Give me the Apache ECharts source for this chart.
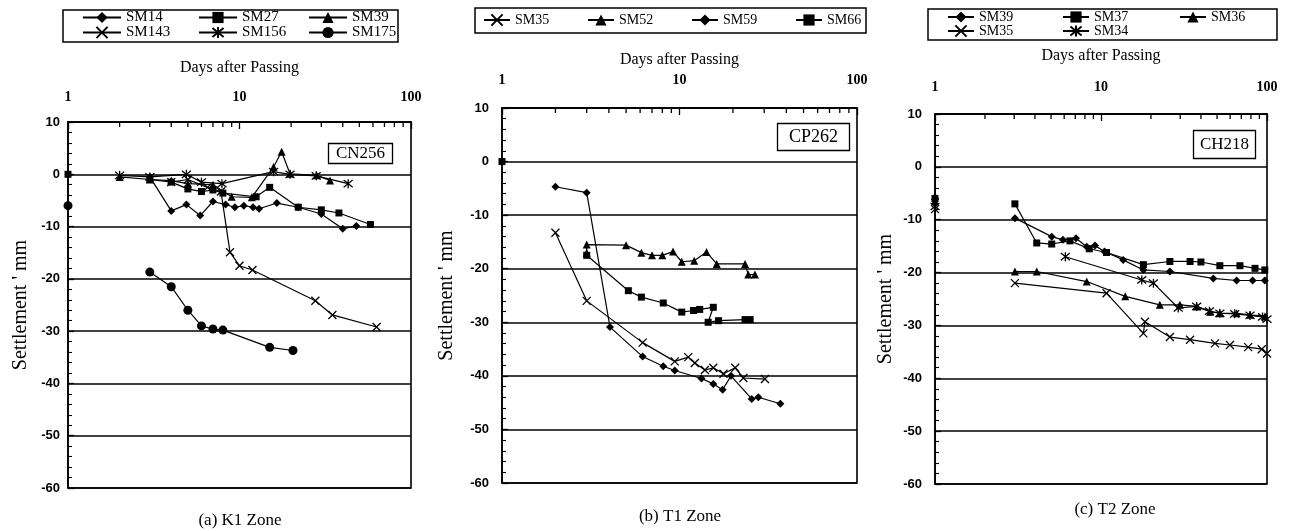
<!DOCTYPE html>
<html><head><meta charset="utf-8">
<script src="https://cdn.jsdelivr.net/npm/echarts@6/dist/echarts.min.js"></script>
<style>html,body{margin:0;padding:0;background:#fff}#c{width:1293px;height:531px}</style>
</head><body><div id="c"></div>
<script>
// ---- axis definitions ----
const xMin = 1, xMax = 100;                 // log axis, days after passing
const yMin = -60, yMax = 10, yStep = 10;    // settlement, mm
const minorDays = [2,3,4,5,6,7,8,9,20,30,40,50,60,70,80,90];

// ---- (a) K1 Zone, CN256 ----
const K1_SM14  = [[3,-0.5],[4,-7],[4.9,-5.8],[5.9,-7.9],[7,-5.2],[8.3,-5.8],[9.4,-6.3],[10.6,-6],[12,-6.3],[13,-6.6],[16.5,-5.5],[22,-6.3],[30,-7.6],[40,-10.4],[48,-9.9]];
const K1_SM27  = [[1,0],[1.5,null],[3,-1],[4,-1.5],[5,-2.8],[6,-3.3],[7,-3],[8,-3.6],[12.5,-4.3],[15,-2.5],[22,-6.3],[30,-6.8],[38,-7.4],[58,-9.6]];
const K1_SM39  = [[2,-0.5],[3,-1],[4,-1.2],[5,-1.8],[7,-2],[9,-4.3],[11.8,-4.4],[15.8,1.4],[17.6,4.3],[19.7,0.1],[28.2,-0.2],[33.7,-1.2]];
const K1_SM143 = [[4,-1.5],[5,-1],[6.5,-2.5],[7.8,-3.3],[8.8,-14.9],[10,-17.5],[11.9,-18.3],[27.7,-24.2],[34.8,-26.9],[63,-29.2]];
const K1_SM156 = [[2,-0.2],[3,-0.5],[4.9,0],[6,-1.5],[7.9,-1.8],[15.8,0.5],[19.7,0],[28,-0.3],[43,-1.8]];
const K1_SM175 = [[1,-6],[1.5,null],[3,-18.7],[4,-21.5],[5,-26],[6,-29],[7,-29.6],[8,-29.8],[15,-33.1],[20.5,-33.7]];

// ---- (b) T1 Zone, CP262 ----
const T1_SM35 = [[2,-13.3],[3,-26],[6.2,-33.8],[9.4,-37.3],[11.2,-36.5],[12.2,-37.6],[13.9,-38.9],[15.5,-38.5],[17.7,-39.6],[20.6,-38.5],[22.9,-40.4],[30.3,-40.6]];
const T1_SM52 = [[3,-17],[3,-15.5],[5,-15.6],[6.1,-17],[7,-17.5],[8,-17.5],[9.2,-16.8],[10.3,-18.7],[12.1,-18.5],[14.2,-16.9],[16.2,-19.1],[23.4,-19.1],[24.4,-21.1],[26.6,-21.1]];
const T1_SM59 = [[2,-4.7],[3,-5.8],[4.06,-30.9],[6.2,-36.4],[8.1,-38.2],[9.4,-39],[13.3,-40.5],[15.5,-41.5],[17.5,-42.6],[19.5,-40],[25.5,-44.3],[27.8,-44],[37,-45.2]];
const T1_SM66 = [[1,0],[1.5,null],[3,-17.5],[5.15,-24.1],[6.1,-25.3],[8.1,-26.4],[10.3,-28.1],[12,-27.8],[13,-27.6],[15.5,-27.2],[14.5,-30],[16.6,-29.7],[23.4,-29.5],[25,-29.5]];

// ---- (c) T2 Zone, CH218 ----
const T2_SM39 = [[1,-7],[1.5,null],[3.03,-9.7],[5.05,-13.2],[5.9,-13.8],[7.07,-13.5],[8.2,-15.1],[9.2,-14.9],[10.5,-16],[13.6,-17.6],[18,-19.5],[26,-19.8],[47.5,-21.1],[65.6,-21.5],[82,-21.5],[97,-21.5]];
const T2_SM37 = [[1,-6],[1.5,null],[3.03,-7],[4.1,-14.4],[5.05,-14.6],[6.5,-14],[8.5,-15.5],[10.8,-16.2],[18,-18.5],[26,-17.9],[34.4,-17.9],[40,-18],[52,-18.7],[68.7,-18.7],[84.7,-19.2],[97,-19.5]];
const T2_SM36 = [[1,-5.5],[1.5,null],[3.03,-19.8],[4.1,-19.8],[8.2,-21.7],[14,-24.5],[22.6,-26.1],[29.9,-26.1],[37.7,-26.4],[45.4,-27.4],[52,-27.7],[65.6,-27.7],[79,-28],[97,-28.3]];
const T2_SM35 = [[1,-8],[1.5,null],[3.03,-22],[10.8,-23.9],[18,-31.5],[18.4,-29.3],[26,-32.2],[34.4,-32.7],[48.6,-33.4],[59.8,-33.7],[77,-34.1],[93,-34.5],[100,-35.3]];
const T2_SM34 = [[1,-7.5],[1.5,null],[6.1,-17],[17.6,-21.4],[20.7,-22],[29.2,-26.7],[37.7,-26.4],[45,-27.3],[52,-27.7],[63.9,-27.8],[79,-28.1],[94,-28.4],[100,-28.8]];

const panelLabels = ['CN256','CP262','CH218'];
const captions = ['(a) K1 Zone','(b) T1 Zone','(c) T2 Zone'];
const xName = 'Days after Passing';
const yName = "Settlement ' mm";

// ---- marker shapes ----
const SYM = {
  diamond: {symbol:'diamond', size:8, stroke:0},
  square:  {symbol:'rect', size:7, stroke:0},
  tri:     {symbol:'triangle', size:8, stroke:0},
  cross:   {symbol:'path://M0,0L10,10M10,0L0,10', size:8, stroke:1.3},
  star:    {symbol:'path://M1,1L9,9M9,1L1,9M5,0L5,10', size:9, stroke:1.3},
  circle:  {symbol:'circle', size:9, stroke:0}
};

const panelSeries = [
  [['SM14',K1_SM14,'diamond'],['SM27',K1_SM27,'square'],['SM39',K1_SM39,'tri'],['SM143',K1_SM143,'cross'],['SM156',K1_SM156,'star'],['SM175',K1_SM175,'circle']],
  [['SM35',T1_SM35,'cross'],['SM52',T1_SM52,'tri'],['SM59',T1_SM59,'diamond'],['SM66',T1_SM66,'square']],
  [['SM39',T2_SM39,'diamond'],['SM37',T2_SM37,'square'],['SM36',T2_SM36,'tri'],['SM35',T2_SM35,'cross'],['SM34',T2_SM34,'star']]
];

// ---- layout (pixels) ----
const L = [
  {grid:{left:68, top:122, width:343, height:366}, xLabelMargin:18, xNameGap:46, yLabelMargin:8, yNameGap:37,
   box:{x:328,y:143,pad:[2,8],fs:17}, cap:{x:240,y:521},
   legRect:[63,10,335,32], legFs:15, legW:38,
   leg:[[82,10],[198,10],[308,10],[82,25],[198,25],[308,25]]},
  {grid:{left:502, top:108, width:355, height:375}, xLabelMargin:21, xNameGap:40, yLabelMargin:13, yNameGap:45,
   box:{x:777,y:123,pad:[5,12],fs:18}, cap:{x:680,y:517},
   legRect:[475,8,391,25], legFs:14, legW:26,
   leg:[[483,13],[587,13],[691,13],[795,13]]},
  {grid:{left:935, top:114, width:332, height:370}, xLabelMargin:20, xNameGap:50, yLabelMargin:13, yNameGap:39,
   box:{x:1193,y:130,pad:[6,7],fs:17}, cap:{x:1115,y:510},
   legRect:[928,9,349,31], legFs:14, legW:26,
   leg:[[947,10],[1062,10],[1179,10],[947,24],[1062,24]]}
];

const serif = 'Liberation Serif, Times New Roman, serif';
const sans = 'Liberation Sans, Arial, sans-serif';

const grids=[], xAxes=[], yAxes=[], series=[], legends=[], titles=[], graphics=[];
const prefixes = ['a','b','c'];

L.forEach((p, i) => {
  grids.push(Object.assign({show:true, borderColor:'#000', borderWidth:1.6, backgroundColor:'transparent'}, p.grid));
  xAxes.push({
    type:'log', logBase:10, min:xMin, max:xMax, gridIndex:i, position:'top',
    name:xName, nameLocation:'middle', nameGap:p.xNameGap,
    nameTextStyle:{fontFamily:serif, fontSize:16, color:'#000'},
    axisLine:{show:true, onZero:false, lineStyle:{color:'#000', width:1.6}},
    axisTick:{show:true, inside:true, length:7, lineStyle:{color:'#000', width:1.3}},
    axisLabel:{margin:p.xLabelMargin, fontFamily:serif, fontWeight:'bold', fontSize:14, color:'#000'},
    splitLine:{show:false}, minorTick:{show:false}
  });
  yAxes.push({
    type:'value', min:yMin, max:yMax, interval:yStep, gridIndex:i,
    name:yName, nameLocation:'middle', nameRotate:90, nameGap:p.yNameGap,
    nameTextStyle:{fontFamily:serif, fontSize:20, color:'#000'},
    axisLine:{show:true, onZero:false, lineStyle:{color:'#000', width:1.6}},
    axisTick:{show:true, inside:true, length:6, lineStyle:{color:'#000', width:1.3}},
    minorTick:{show:true, splitNumber:5, length:4, lineStyle:{color:'#000', width:1.1}},
    axisLabel:{margin:p.yLabelMargin, fontFamily:sans, fontWeight:'bold', fontSize:13, color:'#000'},
    splitLine:{show:true, lineStyle:{color:'#000', width:1.6}}
  });
  panelSeries[i].forEach((s, k) => {
    const sy = SYM[s[2]];
    const name = prefixes[i] + ':' + s[0];
    series.push({
      type:'line', name:name, xAxisIndex:i, yAxisIndex:i, data:s[1],
      symbol:sy.symbol, symbolSize:sy.size, showAllSymbol:true, connectNulls:false,
      lineStyle:{color:'#000', width:1.2},
      itemStyle:{color:'#000', borderColor:'#000', borderWidth:sy.stroke},
      emphasis:{disabled:true}, z:3
    });
    const pos = p.leg[k];
    legends.push({
      data:[name], left:pos[0], top:pos[1], padding:0, itemGap:0,
      itemWidth:p.legW, itemHeight:14, selectedMode:false,
      formatter:n => n.split(':')[1],
      textStyle:{fontFamily:serif, fontSize:p.legFs, color:'#000'}
    });
  });
  // minor ticks of the log axis (2..9, 20..90) drawn through the axis scale
  series.push({
    type:'custom', xAxisIndex:i, yAxisIndex:i, silent:true, clip:false, z:5,
    data:minorDays.map(d => [d, yMax]),
    renderItem:(params, api) => {
      const c = api.coord([api.value(0), api.value(1)]);
      return {type:'line', shape:{x1:c[0], y1:c[1], x2:c[0], y2:c[1]+5}, style:{stroke:'#000', lineWidth:1.3}};
    }
  });
  titles.push({
    text:panelLabels[i], left:p.box.x, top:p.box.y, padding:p.box.pad,
    borderColor:'#000', borderWidth:1.3,
    textStyle:{fontFamily:serif, fontSize:p.box.fs, fontWeight:'normal', color:'#000'}
  });
  graphics.push({
    type:'text', x:p.cap.x, y:p.cap.y,
    style:{text:captions[i], fill:'#000', font:'17px ' + serif, textAlign:'center', textVerticalAlign:'middle'}
  });
  graphics.push({
    type:'rect', shape:{x:p.legRect[0], y:p.legRect[1], width:p.legRect[2], height:p.legRect[3]},
    style:{fill:'none', stroke:'#000', lineWidth:1.5}
  });
});

const chart = echarts.init(document.getElementById('c'), null, {renderer:'canvas'});
chart.setOption({
  animation:false, backgroundColor:'#fff',
  title:titles, legend:legends, grid:grids, xAxis:xAxes, yAxis:yAxes, series:series, graphic:graphics
});
</script></body></html>
